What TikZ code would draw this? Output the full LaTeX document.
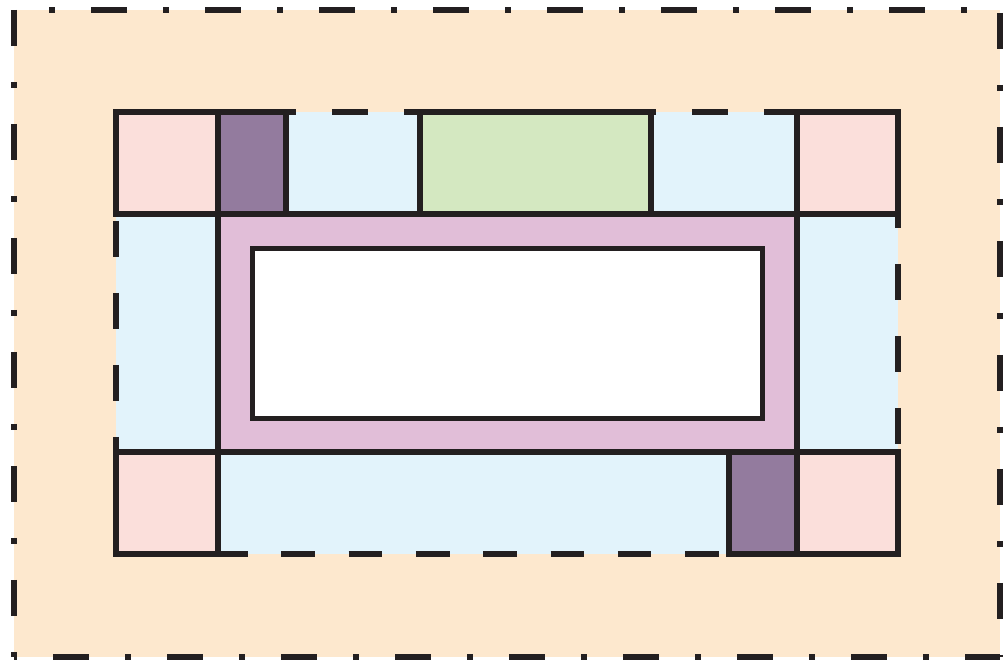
\documentclass[tikz,border=0pt]{standalone}
\usepackage{xcolor}
\definecolor{zoneOrange}{HTML}{FDE8CE}
\definecolor{zoneBlue}{HTML}{E2F3FB}
\definecolor{cornerPink}{HTML}{FBDFDB}
\definecolor{slotPurple}{HTML}{937B9E}
\definecolor{ringLilac}{HTML}{E1BED8}
\definecolor{padGreen}{HTML}{D4E8C1}
\definecolor{inkBlack}{HTML}{231F20}

\begin{document}
\begin{tikzpicture}[x=0.5pt, y=-0.5pt,
    edge/.style={draw=inkBlack, line width=2.75pt},
    cell/.style={edge, fill=#1},
    dashdot/.style={edge, dash pattern=on 18pt off 18pt on 3pt off 18pt},
    dashline/.style={edge, dash pattern=on 18pt off 18pt}
  ]
  \useasboundingbox (0,0) rectangle (1003,662);

  % outer zone with dash-dot border
  \fill[zoneOrange] (14,10) rectangle (1000,657);
  \draw[dashdot, dash phase=18.5pt] (14,10) -- (1000,10);
  \draw[dashdot] (14,10) -- (14,657);
  \draw[dashdot, dash phase=55.5pt] (1000,10) -- (1000,657);
  \draw[dashdot, dash phase=37.5pt] (14,657) -- (1000,657);

  % middle zone with dashed border
  \fill[zoneBlue] (116,112) rectangle (898,554);
  \draw[dashline] (116,112) -- (898,112);
  \draw[dashline, dash phase=32pt] (898,112) -- (898,554);
  \draw[dashline, dash phase=17.5pt] (116,112) -- (116,554);
  \draw[edge, dash pattern=on 16.8pt off 16.85pt, dash phase=18.3pt] (116,554) -- (898,554);

  % ring round the core
  \draw[cell=ringLilac] (218,214) rectangle (797,452);
  \draw[edge] (116,214) -- (898,214);
  \draw[edge] (116,452) -- (898,452);
  \draw[edge] (218,112) -- (218,554);
  \draw[edge] (797,112) -- (797,554);

  % top row
  \draw[cell=cornerPink] (116,112) rectangle (218,214);
  \draw[cell=slotPurple] (218,112) rectangle (286,214);
  \draw[cell=padGreen]   (420,112) rectangle (651,214);
  \draw[cell=cornerPink] (797,112) rectangle (898,214);

  % bottom row
  \draw[cell=cornerPink] (116,452) rectangle (218,554);
  \draw[cell=slotPurple] (729,452) rectangle (797,554);
  \draw[cell=cornerPink] (797,452) rectangle (898,554);

  % core
  \draw[cell=white] (252.5,248.5) rectangle (762.5,418.5);
\end{tikzpicture}
\end{document}
